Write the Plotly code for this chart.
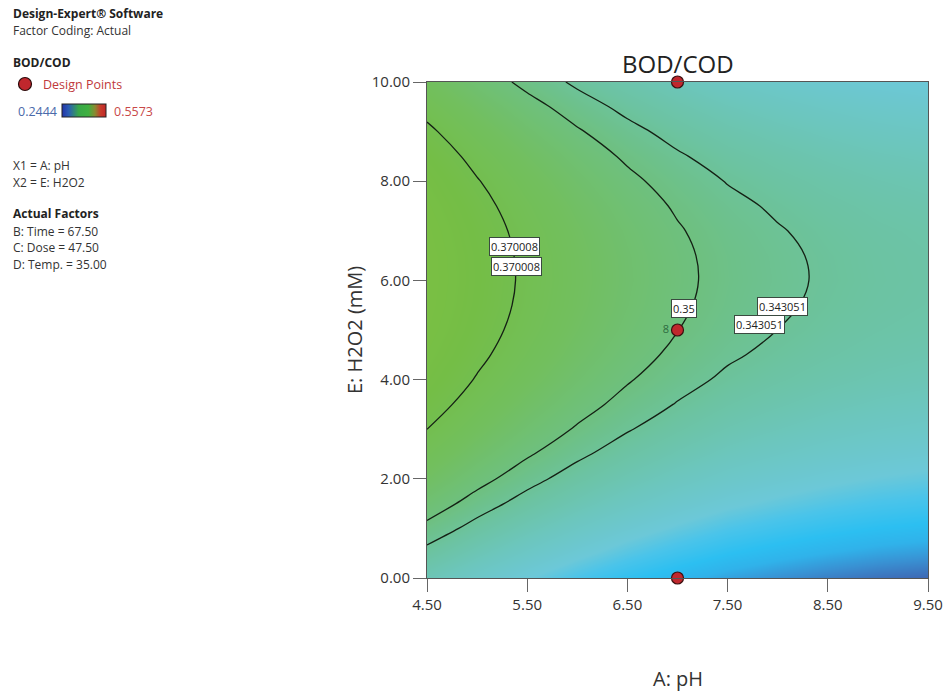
import plotly.graph_objects as go

# ---------------- data ----------------
ph = [4.5, 5.0, 5.5, 6.0, 6.5, 7.0, 7.5, 8.0, 8.5, 9.0, 9.5]
h2o2 = [0, 0.5, 1, 1.5, 2, 2.5, 3, 3.5, 4, 4.5, 5, 5.5, 6, 6.5, 7, 7.5, 8, 8.5, 9, 9.5, 10]
# BOD/COD predicted surface, rows = H2O2 values, columns = pH values
bod_cod = [
    [0.33277, 0.32512, 0.31817, 0.31192, 0.30637, 0.30152, 0.29737, 0.29442, 0.29187, 0.28982, 0.28847],
    [0.34066, 0.33301, 0.32606, 0.31981, 0.31426, 0.30941, 0.30526, 0.30231, 0.29976, 0.29771, 0.29636],
    [0.34789, 0.34024, 0.33329, 0.32704, 0.32149, 0.31664, 0.31249, 0.30954, 0.30699, 0.30494, 0.30359],
    [0.35443, 0.34678, 0.33983, 0.33358, 0.32803, 0.32318, 0.31903, 0.31608, 0.31353, 0.31148, 0.31013],
    [0.36031, 0.35266, 0.34571, 0.33946, 0.33391, 0.32906, 0.32491, 0.32196, 0.31941, 0.31736, 0.31601],
    [0.36550, 0.35785, 0.35090, 0.34465, 0.33910, 0.33425, 0.33010, 0.32715, 0.32460, 0.32255, 0.32120],
    [0.37003, 0.36238, 0.35543, 0.34918, 0.34363, 0.33878, 0.33463, 0.33168, 0.32913, 0.32708, 0.32573],
    [0.37387, 0.36622, 0.35927, 0.35302, 0.34747, 0.34262, 0.33847, 0.33552, 0.33297, 0.33092, 0.32957],
    [0.37705, 0.36940, 0.36245, 0.35620, 0.35065, 0.34580, 0.34165, 0.33870, 0.33615, 0.33410, 0.33275],
    [0.37954, 0.37189, 0.36494, 0.35869, 0.35314, 0.34829, 0.34414, 0.34119, 0.33864, 0.33659, 0.33524],
    [0.38137, 0.37372, 0.36677, 0.36052, 0.35497, 0.35012, 0.34597, 0.34302, 0.34047, 0.33842, 0.33707],
    [0.38251, 0.37486, 0.36791, 0.36166, 0.35611, 0.35126, 0.34711, 0.34416, 0.34161, 0.33956, 0.33821],
    [0.38299, 0.37534, 0.36839, 0.36214, 0.35659, 0.35174, 0.34759, 0.34464, 0.34209, 0.34004, 0.33869],
    [0.38278, 0.37513, 0.36818, 0.36193, 0.35638, 0.35153, 0.34738, 0.34443, 0.34188, 0.33983, 0.33848],
    [0.38191, 0.37426, 0.36731, 0.36106, 0.35551, 0.35066, 0.34651, 0.34356, 0.34101, 0.33896, 0.33761],
    [0.38035, 0.37270, 0.36575, 0.35950, 0.35395, 0.34910, 0.34495, 0.34200, 0.33945, 0.33740, 0.33605],
    [0.37813, 0.37048, 0.36353, 0.35728, 0.35173, 0.34688, 0.34273, 0.33978, 0.33723, 0.33518, 0.33383],
    [0.37522, 0.36757, 0.36062, 0.35437, 0.34882, 0.34397, 0.33982, 0.33687, 0.33432, 0.33227, 0.33092],
    [0.37165, 0.36400, 0.35705, 0.35080, 0.34525, 0.34040, 0.33625, 0.33330, 0.33075, 0.32870, 0.32735],
    [0.36739, 0.35974, 0.35279, 0.34654, 0.34099, 0.33614, 0.33199, 0.32904, 0.32649, 0.32444, 0.32309],
    [0.36247, 0.35482, 0.34787, 0.34162, 0.33607, 0.33122, 0.32707, 0.32412, 0.32157, 0.31952, 0.31817],
]
z_min, z_max = 0.2444, 0.5573
contour_levels = [0.343051, 0.35, 0.370008]

label_text = ["0.370008", "0.370008", "0.35", "0.343051", "0.343051"]
label_x = [5.373, 5.393, 7.06, 8.047, 7.82]
label_y = [6.69, 6.28, 5.43, 5.47, 5.12]

design_x = [7.0, 7.0, 7.0]
design_y = [10.0, 5.0, 0.0]
design_rep = ["", "8", ""]

x_ticks = [4.5, 5.5, 6.5, 7.5, 8.5, 9.5]
y_ticks = [0, 2, 4, 6, 8, 10]

panel_lines = [
    ("<b>Design-Expert® Software</b>", 14, "#222222"),
    ("Factor Coding: Actual", 30, "#333333"),
    ("<b>BOD/COD</b>", 63, "#222222"),
    ("X1 = A: pH", 165, "#333333"),
    ("X2 = E: H2O2", 182, "#333333"),
    ("<b>Actual Factors</b>", 213, "#222222"),
    ("B: Time = 67.50", 231, "#333333"),
    ("C: Dose = 47.50", 247, "#333333"),
    ("D: Temp. = 35.00", 264, "#333333"),
]

# ---------------- styling ----------------
W, H = 944, 693
L, R, T, B = 427, 16, 82, 115
PW, PH = W - L - R, H - T - B
FONT = "Open Sans"


def px_x(p):
    return (p - L) / PW


def px_y(p):
    return (H - B - p) / PH


surf_vals = [0.2444, 0.2885, 0.2945, 0.300, 0.305, 0.312, 0.318, 0.330, 0.340,
             0.350, 0.362, 0.375, 0.40, 0.45, 0.50, 0.5573]
surf_cols = ["#2b3d99", "#3e68b4", "#3990d2", "#30b2ea", "#2cbff1", "#4ac4ea",
             "#6cc8d8", "#6cc6bd", "#6cc3a2", "#6ec07f", "#72bf5e", "#74be46",
             "#86c23e", "#bcc038", "#e09030", "#d02a28"]
surf_scale = [[(v - z_min) / (z_max - z_min), c] for v, c in zip(surf_vals, surf_cols)]
legend_scale = [[0, "#2233a8"], [0.15, "#2a5cb4"], [0.38, "#38a848"], [0.6, "#3fb040"],
                [0.75, "#8a8a30"], [0.88, "#c83a2a"], [1, "#c02828"]]

fig = go.Figure()
fig.add_trace(go.Heatmap(x=ph, y=h2o2, z=bod_cod, zmin=z_min, zmax=z_max,
                         colorscale=surf_scale, zsmooth="best", showscale=False,
                         hoverinfo="skip"))
for lvl in contour_levels:
    fig.add_trace(go.Contour(x=ph, y=h2o2, z=bod_cod, autocontour=False,
                             contours=dict(start=lvl, end=lvl, size=0.001, coloring="none"),
                             line=dict(color="#142014", width=1.3, smoothing=1.0),
                             showscale=False, hoverinfo="skip"))

fig.add_trace(go.Scatter(x=design_x, y=design_y, mode="markers+text", text=design_rep,
                         textposition="middle left",
                         textfont=dict(family=FONT, size=11, color="#2d6b40"),
                         marker=dict(size=12, color="#c0272d", line=dict(color="#3a1010", width=1.2)),
                         cliponaxis=False, showlegend=False, hoverinfo="skip"))

# legend colour bar
fig.add_trace(go.Scatter(x=[None], y=[None], mode="markers", showlegend=False, hoverinfo="skip",
                         marker=dict(color=[z_min], cmin=z_min, cmax=z_max, colorscale=legend_scale,
                                     showscale=True,
                                     colorbar=dict(orientation="h", x=px_x(62), xanchor="left",
                                                   y=px_y(110.5), yanchor="middle",
                                                   lenmode="pixels", len=44,
                                                   thicknessmode="pixels", thickness=13,
                                                   outlinewidth=1, outlinecolor="#222",
                                                   showticklabels=False, ticks="",
                                                   xpad=0, ypad=0))))

ann = []
for t, lx, ly in zip(label_text, label_x, label_y):
    ann.append(dict(x=lx, y=ly, xref="x", yref="y", text=t, showarrow=False,
                    font=dict(family=FONT, size=11, color="#222"), bgcolor="white",
                    bordercolor="#3a4a40", borderwidth=1, borderpad=1))

for t, py, col in panel_lines:
    ann.append(dict(x=px_x(11), y=px_y(py), xref="paper", yref="paper", text=t, showarrow=False,
                    xanchor="left", yanchor="middle", font=dict(family=FONT, size=12, color=col)))
ann.append(dict(x=px_x(41), y=px_y(84), xref="paper", yref="paper", text="Design Points",
                showarrow=False, xanchor="left", yanchor="middle",
                font=dict(family=FONT, size=12.5, color="#c0393b")))
ann.append(dict(x=px_x(16), y=px_y(111), xref="paper", yref="paper", text=f"{z_min:.4f}",
                showarrow=False, xanchor="left", yanchor="middle",
                font=dict(family=FONT, size=12.5, color="#4a6aaa")))
ann.append(dict(x=px_x(112), y=px_y(111), xref="paper", yref="paper", text=f"{z_max:.4f}",
                showarrow=False, xanchor="left", yanchor="middle",
                font=dict(family=FONT, size=12.5, color="#c84848")))
ann.append(dict(x=0.5, y=px_y(64), xref="paper", yref="paper", text="BOD/COD", showarrow=False,
                xanchor="center", yanchor="middle", font=dict(family=FONT, size=24, color="#222")))
ann.append(dict(x=0.5, y=px_y(678), xref="paper", yref="paper", text="A: pH", showarrow=False,
                xanchor="center", yanchor="middle", font=dict(family=FONT, size=20, color="#333")))
ann.append(dict(x=px_x(354), y=0.5, xref="paper", yref="paper", text="E: H2O2 (mM)", showarrow=False,
                textangle=-90, xanchor="center", yanchor="middle",
                font=dict(family=FONT, size=20, color="#333")))

shapes = [dict(type="circle", xref="paper", yref="paper",
               x0=px_x(18.5), x1=px_x(31.5), y0=px_y(90.5), y1=px_y(77.5),
               fillcolor="#c0272d", line=dict(color="#2a0a0a", width=1.2))]

axis_common = dict(showgrid=False, zeroline=False, showline=True, mirror=True,
                   linecolor="#555", linewidth=1, ticks="outside", ticklen=13,
                   tickcolor="#666", tickfont=dict(family=FONT, size=15, color="#333"))

fig.update_layout(
    width=W, height=H, margin=dict(l=L, r=R, t=T, b=B, autoexpand=False),
    paper_bgcolor="white", plot_bgcolor="white", showlegend=False,
    xaxis=dict(range=[4.5, 9.5], tickvals=x_ticks, ticktext=[f"{v:.2f}" for v in x_ticks],
               **axis_common),
    yaxis=dict(range=[0, 10], tickvals=y_ticks, ticktext=[f"{v:.2f}" for v in y_ticks],
               **axis_common),
    annotations=ann, shapes=shapes,
)

fig.write_html("out.html")
